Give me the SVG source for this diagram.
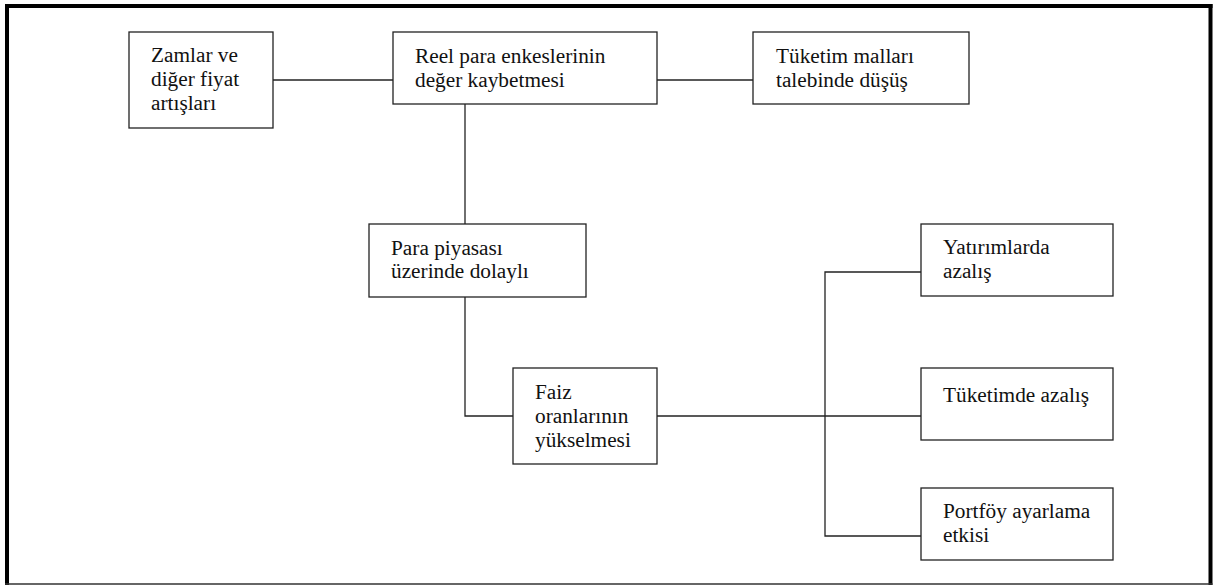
<svg xmlns="http://www.w3.org/2000/svg" width="1217" height="586" viewBox="0 0 1217 586">
  <style>
    .box { fill: #ffffff; stroke: #222222; stroke-width: 1.3; }
    .lbl { font-size: 21.3px; fill: #111111; }
    .wire { fill: none; stroke: #222222; stroke-width: 1.3; }
    .frame { stroke: #000000; fill: none; }
  </style>
  <defs>
    <clipPath id="paraClip">
      <rect x="369" y="224" width="217" height="64"/>
    </clipPath>
  </defs>

  <rect x="0" y="0" width="1217" height="586" fill="#ffffff"/>

  <!-- outer frame: heavy left, top and right edges, light bottom edge -->
  <g id="frame">
    <line class="frame" x1="7" y1="4" x2="7" y2="585" stroke-width="4"/>
    <line class="frame" x1="5" y1="6" x2="1212.5" y2="6" stroke-width="4"/>
    <line class="frame" x1="1210.5" y1="4" x2="1210.5" y2="585" stroke-width="4"/>
    <line x1="5" y1="584" x2="1212.5" y2="584" stroke="#333333" stroke-width="1.6"/>
  </g>

  <!-- connectors -->
  <g id="connectors">
    <line class="wire" x1="273" y1="80" x2="393" y2="80"/>
    <line class="wire" x1="657" y1="80" x2="753" y2="80"/>
    <line class="wire" x1="465" y1="104" x2="465" y2="224"/>
    <polyline class="wire" points="465,297 465,416 513,416"/>
    <line class="wire" x1="657" y1="416" x2="921" y2="416"/>
    <polyline class="wire" points="921,272 825,272 825,536 921,536"/>
  </g>

  <g id="node-zamlar">
    <rect class="box" x="129" y="32" width="144" height="96"/>
    <text class="lbl" font-family="Liberation Serif, serif" x="151" y="62">Zamlar ve</text>
    <text class="lbl" font-family="Liberation Serif, serif" x="151" y="86">diğer fiyat</text>
    <text class="lbl" font-family="Liberation Serif, serif" x="151" y="110">artışları</text>
  </g>

  <g id="node-reel">
    <rect class="box" x="393" y="32" width="264" height="72"/>
    <text class="lbl" font-family="Liberation Serif, serif" x="415" y="63">Reel para enkeslerinin</text>
    <text class="lbl" font-family="Liberation Serif, serif" x="415" y="87">değer kaybetmesi</text>
  </g>

  <g id="node-tuketim-mallari">
    <rect class="box" x="753" y="32" width="216" height="72"/>
    <text class="lbl" font-family="Liberation Serif, serif" x="776" y="63">Tüketim malları</text>
    <text class="lbl" font-family="Liberation Serif, serif" x="776" y="87">talebinde düşüş</text>
  </g>

  <g id="node-para-piyasasi">
    <rect class="box" x="369" y="224" width="217" height="73"/>
    <text class="lbl" font-family="Liberation Serif, serif" x="391" y="255">Para piyasası</text>
    <text class="lbl" font-family="Liberation Serif, serif" x="391" y="278">üzerinde dolaylı</text>
    <!-- last line overflows the box and is cut off -->
    <text class="lbl" font-family="Liberation Serif, serif" x="391" y="302" clip-path="url(#paraClip)">etkisi</text>
  </g>

  <g id="node-faiz">
    <rect class="box" x="513" y="368" width="144" height="96"/>
    <text class="lbl" font-family="Liberation Serif, serif" x="535" y="399">Faiz</text>
    <text class="lbl" font-family="Liberation Serif, serif" x="535" y="423">oranlarının</text>
    <text class="lbl" font-family="Liberation Serif, serif" x="535" y="447">yükselmesi</text>
  </g>

  <g id="node-yatirimlarda">
    <rect class="box" x="921" y="224" width="192" height="72"/>
    <text class="lbl" font-family="Liberation Serif, serif" x="943" y="254">Yatırımlarda</text>
    <text class="lbl" font-family="Liberation Serif, serif" x="943" y="278">azalış</text>
  </g>

  <g id="node-tuketimde">
    <rect class="box" x="921" y="368" width="192" height="72"/>
    <text class="lbl" font-family="Liberation Serif, serif" x="943" y="402">Tüketimde azalış</text>
  </g>

  <g id="node-portfoy">
    <rect class="box" x="921" y="488" width="192" height="72"/>
    <text class="lbl" font-family="Liberation Serif, serif" x="943" y="518">Portföy ayarlama</text>
    <text class="lbl" font-family="Liberation Serif, serif" x="943" y="542">etkisi</text>
  </g>
</svg>
